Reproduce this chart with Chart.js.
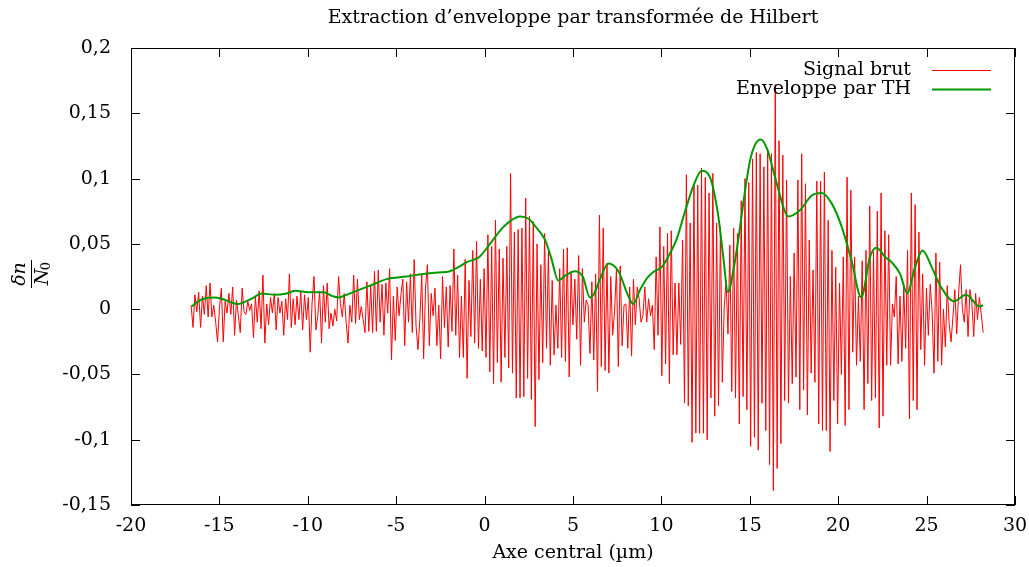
<!DOCTYPE html>
<html>
<head>
<meta charset="utf-8">
<script src="https://cdn.jsdelivr.net/npm/chart.js@4.4.0/dist/chart.umd.min.js"></script>
<style>
  html, body { margin: 0; padding: 0; background: #fff; }
  #wrap { width: 1029px; height: 567px; }
</style>
</head>
<body>
<div id="wrap"><canvas id="chart" width="1029" height="567"></canvas></div>
<script>
// --- DONNÉES ---
// signal brut : échantillons réguliers entre signalStart et signalEnd (µm)
const signalStart = -16.6;
const signalEnd = 28.2;
const signalY = [
  0.003, -0.014, 0.011, -0.002, 0.013, -0.014, 0.010, -0.004, 0.018, -0.006,
  0.020, -0.006, 0.003, -0.010, -0.025, 0.001, 0.016, -0.025, 0.006, -0.003,
  0.012, -0.004, 0.017, -0.020, 0.007, -0.005, -0.018, 0.016, -0.002, -0.004,
  0.006, -0.001, 0.004, -0.022, 0.010, -0.010, 0.014, -0.015, 0.026, -0.026,
  0.004, -0.012, 0.009, -0.003, 0.012, -0.016, 0.009, -0.003, 0.006, -0.020,
  0.008, -0.008, 0.027, -0.014, 0.008, -0.012, 0.010, -0.008, 0.014, -0.016,
  0.011, -0.008, 0.009, -0.033, 0.005, 0.025, -0.016, -0.005, 0.014, -0.026,
  0.018, -0.010, 0.020, -0.015, -0.003, -0.013, 0.000, -0.009, 0.025, 0.004,
  -0.006, 0.012, -0.010, -0.026, 0.003, -0.010, 0.026, -0.011, 0.023, -0.008,
  0.002, -0.008, -0.018, 0.021, -0.017, 0.018, -0.018, 0.029, -0.017, 0.030,
  -0.010, 0.019, -0.020, 0.020, -0.003, 0.031, -0.039, 0.010, -0.024, 0.017,
  -0.005, 0.011, 0.023, -0.028, 0.021, -0.010, 0.027, -0.018, 0.038, -0.013,
  -0.031, -0.008, 0.026, -0.038, 0.016, 0.034, -0.028, 0.012, -0.005, 0.016,
  -0.028, 0.003, -0.038, 0.025, -0.014, 0.017, -0.029, 0.018, -0.017, 0.046,
  -0.020, 0.026, -0.037, 0.010, -0.037, 0.038, -0.053, 0.022, -0.021, 0.045,
  -0.026, 0.052, -0.030, 0.023, -0.032, 0.031, -0.037, 0.057, -0.048, 0.048,
  -0.057, 0.068, -0.041, 0.046, -0.056, 0.039, -0.037, 0.048, -0.045, 0.104,
  -0.049, 0.059, -0.068, 0.061, -0.068, 0.062, -0.067, 0.085, -0.053, 0.071,
  -0.069, 0.067, -0.090, 0.050, -0.054, 0.034, -0.041, 0.058, -0.030, 0.044,
  -0.043, 0.022, -0.035, 0.003, -0.030, 0.031, -0.037, 0.046, -0.040, 0.047,
  -0.052, 0.029, -0.012, 0.023, -0.023, 0.041, -0.043, 0.031, -0.010, 0.007,
  0.003, -0.034, 0.021, -0.039, 0.027, -0.063, 0.072, -0.044, 0.062, -0.047,
  0.035, -0.049, 0.025, -0.020, -0.002, 0.031, -0.044, 0.033, -0.028, 0.003,
  0.004, -0.030, 0.017, -0.036, 0.023, -0.012, 0.017, 0.008, -0.010, -0.005,
  0.017, -0.010, 0.008, -0.005, 0.003, -0.031, 0.040, -0.020, 0.063, -0.051,
  0.048, -0.042, 0.058, -0.057, 0.060, -0.035, 0.020, -0.035, 0.020, -0.027,
  0.053, -0.072, 0.103, -0.074, 0.066, -0.102, 0.096, -0.095, 0.095, -0.095,
  0.108, -0.095, 0.101, -0.100, 0.089, -0.068, 0.104, -0.082, 0.066, -0.074,
  0.063, -0.056, 0.001, 0.022, -0.019, 0.049, -0.063, 0.062, -0.068, 0.058,
  -0.088, 0.083, -0.067, 0.100, -0.077, 0.097, -0.105, 0.115, -0.098, 0.120,
  -0.108, 0.119, -0.072, 0.109, -0.093, 0.122, -0.119, 0.119, -0.139, 0.172,
  -0.122, 0.129, -0.103, 0.118, -0.070, 0.099, -0.072, 0.025, -0.057, 0.043,
  -0.052, 0.099, -0.077, 0.119, -0.062, 0.096, -0.081, 0.053, -0.049, 0.030,
  -0.056, 0.098, -0.088, 0.098, -0.093, 0.105, -0.093, 0.068, -0.109, 0.045,
  -0.070, 0.032, -0.088, 0.020, -0.050, 0.040, -0.089, 0.101, -0.077, 0.091,
  -0.033, 0.040, -0.043, 0.010, -0.040, 0.037, -0.077, 0.045, -0.057, 0.079,
  -0.070, 0.044, -0.068, 0.075, -0.091, 0.089, -0.082, 0.060, -0.043, 0.057,
  -0.043, 0.004, -0.006, 0.025, -0.042, 0.010, -0.040, 0.018, -0.030, 0.045,
  -0.084, 0.089, -0.070, 0.080, -0.077, 0.059, -0.031, 0.027, -0.043, 0.016,
  -0.020, 0.019, -0.002, -0.049, 0.043, -0.040, 0.036, -0.043, 0.000, -0.029,
  0.018, -0.011, -0.025, -0.006, 0.015, -0.019, 0.012, 0.034, 0.000, -0.010,
  0.015, -0.021, 0.015, 0.005, -0.021, 0.012, -0.008, 0.009, -0.004, -0.018
];

// enveloppe (transformée de Hilbert)
const envX = [
  -16.57, -16.2, -15.9, -15.3, -14.87, -14.3, -13.93, -13.5, -13.17, -12.6,
  -11.85, -11.2, -10.7, -9.97, -9.12, -8.6, -8.27, -7.8, -7.43, -6.48,
  -5.54, -4.41, -3.47, -2.62, -1.96, -1.5, -1.0, -0.3, 0.25, 1.0,
  1.5, 2.0, 2.5, 2.9, 3.42, 3.75, 4.17, 4.6, 5.1, 5.55,
  5.96, 6.2, 6.5, 7.0, 7.57, 8.1, 8.4, 8.8, 9.2, 9.6,
  10.0, 10.5, 10.9, 11.25, 11.5, 11.8, 12.28, 12.75, 13.2, 13.5,
  13.76, 14.1, 14.4, 14.65, 15.0, 15.3, 15.63, 16.0, 16.33, 16.55,
  16.9, 17.16, 17.85, 18.5, 19.07, 19.63, 20.2, 20.76, 21.3, 21.8,
  22.17, 22.65, 23.02, 23.5, 23.91, 24.34, 24.77, 25.3, 25.77, 26.55,
  27.23, 28.0, 28.2
];
const envY = [
  0.002, 0.006, 0.008, 0.009, 0.008, 0.005, 0.004, 0.006, 0.008, 0.012,
  0.011, 0.012, 0.014, 0.013, 0.013, 0.010, 0.009, 0.011, 0.013, 0.018,
  0.023, 0.025, 0.027, 0.028, 0.029, 0.032, 0.036, 0.040, 0.049, 0.062,
  0.068, 0.071, 0.069, 0.063, 0.053, 0.040, 0.022, 0.026, 0.029, 0.025,
  0.009, 0.012, 0.022, 0.035, 0.029, 0.011, 0.004, 0.015, 0.024, 0.029,
  0.032, 0.043, 0.055, 0.071, 0.082, 0.094, 0.106, 0.101, 0.073, 0.040,
  0.013, 0.032, 0.058, 0.083, 0.113, 0.126, 0.130, 0.122, 0.106, 0.095,
  0.078, 0.071, 0.076, 0.087, 0.089, 0.081, 0.063, 0.037, 0.009, 0.040,
  0.047, 0.040, 0.036, 0.027, 0.012, 0.032, 0.045, 0.032, 0.018, 0.006,
  0.011, 0.002, 0.003
];

const seriesNames = ['Signal brut', 'Enveloppe par TH'];
const seriesColors = ['#ff0000', '#009a00'];
const chartTitle = 'Extraction d’enveloppe par transformée de Hilbert';

const FONT = 'DejaVu Serif';
const FS = 19;

// --- CONSTRUCTION DES POINTS ---
const stepX = (signalEnd - signalStart) / (signalY.length - 1);
const signalPts = signalY.map((v, i) => ({ x: signalStart + i * stepX, y: v }));
const envPts = envX.map((x, i) => ({ x: x, y: envY[i] }));

function fmtTick(v) {
  const r = Math.round(v * 100) / 100;
  return r === 0 ? '0' : String(r).replace('.', ',');
}

// cadre gnuplot, titre, légende et titre de l'axe y
const gnuplotDecor = {
  id: 'gnuplotDecor',
  afterDraw(chart) {
    const { ctx, chartArea: a } = chart;
    const xs = chart.scales.x, ys = chart.scales.y;
    ctx.save();
    ctx.strokeStyle = '#000';
    ctx.lineWidth = 1;
    ctx.strokeRect(a.left + 0.5, a.top + 0.5, a.right - a.left - 1, a.bottom - a.top - 1);
    const tl = 9;
    ctx.beginPath();
    xs.ticks.forEach(t => {
      const px = Math.round(xs.getPixelForValue(t.value)) + 0.5;
      ctx.moveTo(px, a.bottom); ctx.lineTo(px, a.bottom - tl);
      ctx.moveTo(px, a.top); ctx.lineTo(px, a.top + tl);
    });
    ys.ticks.forEach(t => {
      const py = Math.round(ys.getPixelForValue(t.value)) + 0.5;
      ctx.moveTo(a.left, py); ctx.lineTo(a.left + tl, py);
      ctx.moveTo(a.right, py); ctx.lineTo(a.right - tl, py);
    });
    ctx.stroke();

    ctx.font = FS + 'px "' + FONT + '"';
    ctx.fillStyle = '#000';
    ctx.textBaseline = 'middle';

    // titre centré sur la zone de tracé
    ctx.textAlign = 'center';
    ctx.fillText(chartTitle, (a.left + a.right) / 2, 18);

    // légende
    ctx.textAlign = 'right';
    const ly = [70, 89];
    seriesNames.forEach((name, i) => {
      ctx.fillText(name, 911, ly[i]);
      ctx.beginPath();
      ctx.strokeStyle = seriesColors[i];
      ctx.lineWidth = i === 0 ? 1 : 2;
      ctx.moveTo(932, ly[i] + 0.5);
      ctx.lineTo(991, ly[i] + 0.5);
      ctx.stroke();
    });

    // titre axe y : fraction δn / N0
    ctx.translate(31, 274);
    ctx.rotate(-Math.PI / 2);
    ctx.textAlign = 'center';
    ctx.font = 'italic ' + FS + 'px "' + FONT + '"';
    ctx.fillText('δn', 0, -11);
    ctx.beginPath();
    ctx.strokeStyle = '#000';
    ctx.lineWidth = 1;
    ctx.moveTo(-14, 0.5);
    ctx.lineTo(14, 0.5);
    ctx.stroke();
    ctx.fillText('N', -3, 12);
    ctx.font = '13px "' + FONT + '"';
    ctx.fillText('0', 8, 16);
    ctx.restore();
  }
};

new Chart(document.getElementById('chart'), {
  type: 'line',
  data: {
    datasets: [
      {
        label: seriesNames[0],
        data: signalPts,
        borderColor: seriesColors[0],
        borderWidth: 1,
        pointRadius: 0,
        tension: 0,
        order: 1
      },
      {
        label: seriesNames[1],
        data: envPts,
        borderColor: seriesColors[1],
        borderWidth: 2,
        pointRadius: 0,
        cubicInterpolationMode: 'monotone',
        order: 0
      }
    ]
  },
  options: {
    responsive: false,
    animation: false,
    devicePixelRatio: 1,
    layout: { padding: { left: 0, right: 14, top: 48, bottom: 0 } },
    scales: {
      x: {
        type: 'linear',
        min: -20,
        max: 30,
        afterFit: s => { s.height = 62; s.paddingLeft = 0; s.paddingRight = 0; },
        ticks: {
          stepSize: 5,
          padding: 10,
          color: '#000',
          font: { family: FONT, size: FS },
          callback: v => String(v)
        },
        grid: { display: false, drawTicks: false },
        border: { display: false },
        title: {
          display: true,
          text: 'Axe central (µm)',
          color: '#000',
          font: { family: FONT, size: FS },
          padding: { top: 0, bottom: 3 }
        }
      },
      y: {
        type: 'linear',
        min: -0.15,
        max: 0.2,
        afterFit: s => { s.width = 131; s.paddingTop = 0; s.paddingBottom = 0; },
        ticks: {
          stepSize: 0.05,
          padding: 20,
          color: '#000',
          font: { family: FONT, size: FS },
          callback: fmtTick
        },
        grid: { display: false, drawTicks: false },
        border: { display: false }
      }
    },
    plugins: {
      legend: { display: false },
      tooltip: { enabled: false },
      title: { display: false }
    }
  },
  plugins: [gnuplotDecor]
});
</script>
</body>
</html>
